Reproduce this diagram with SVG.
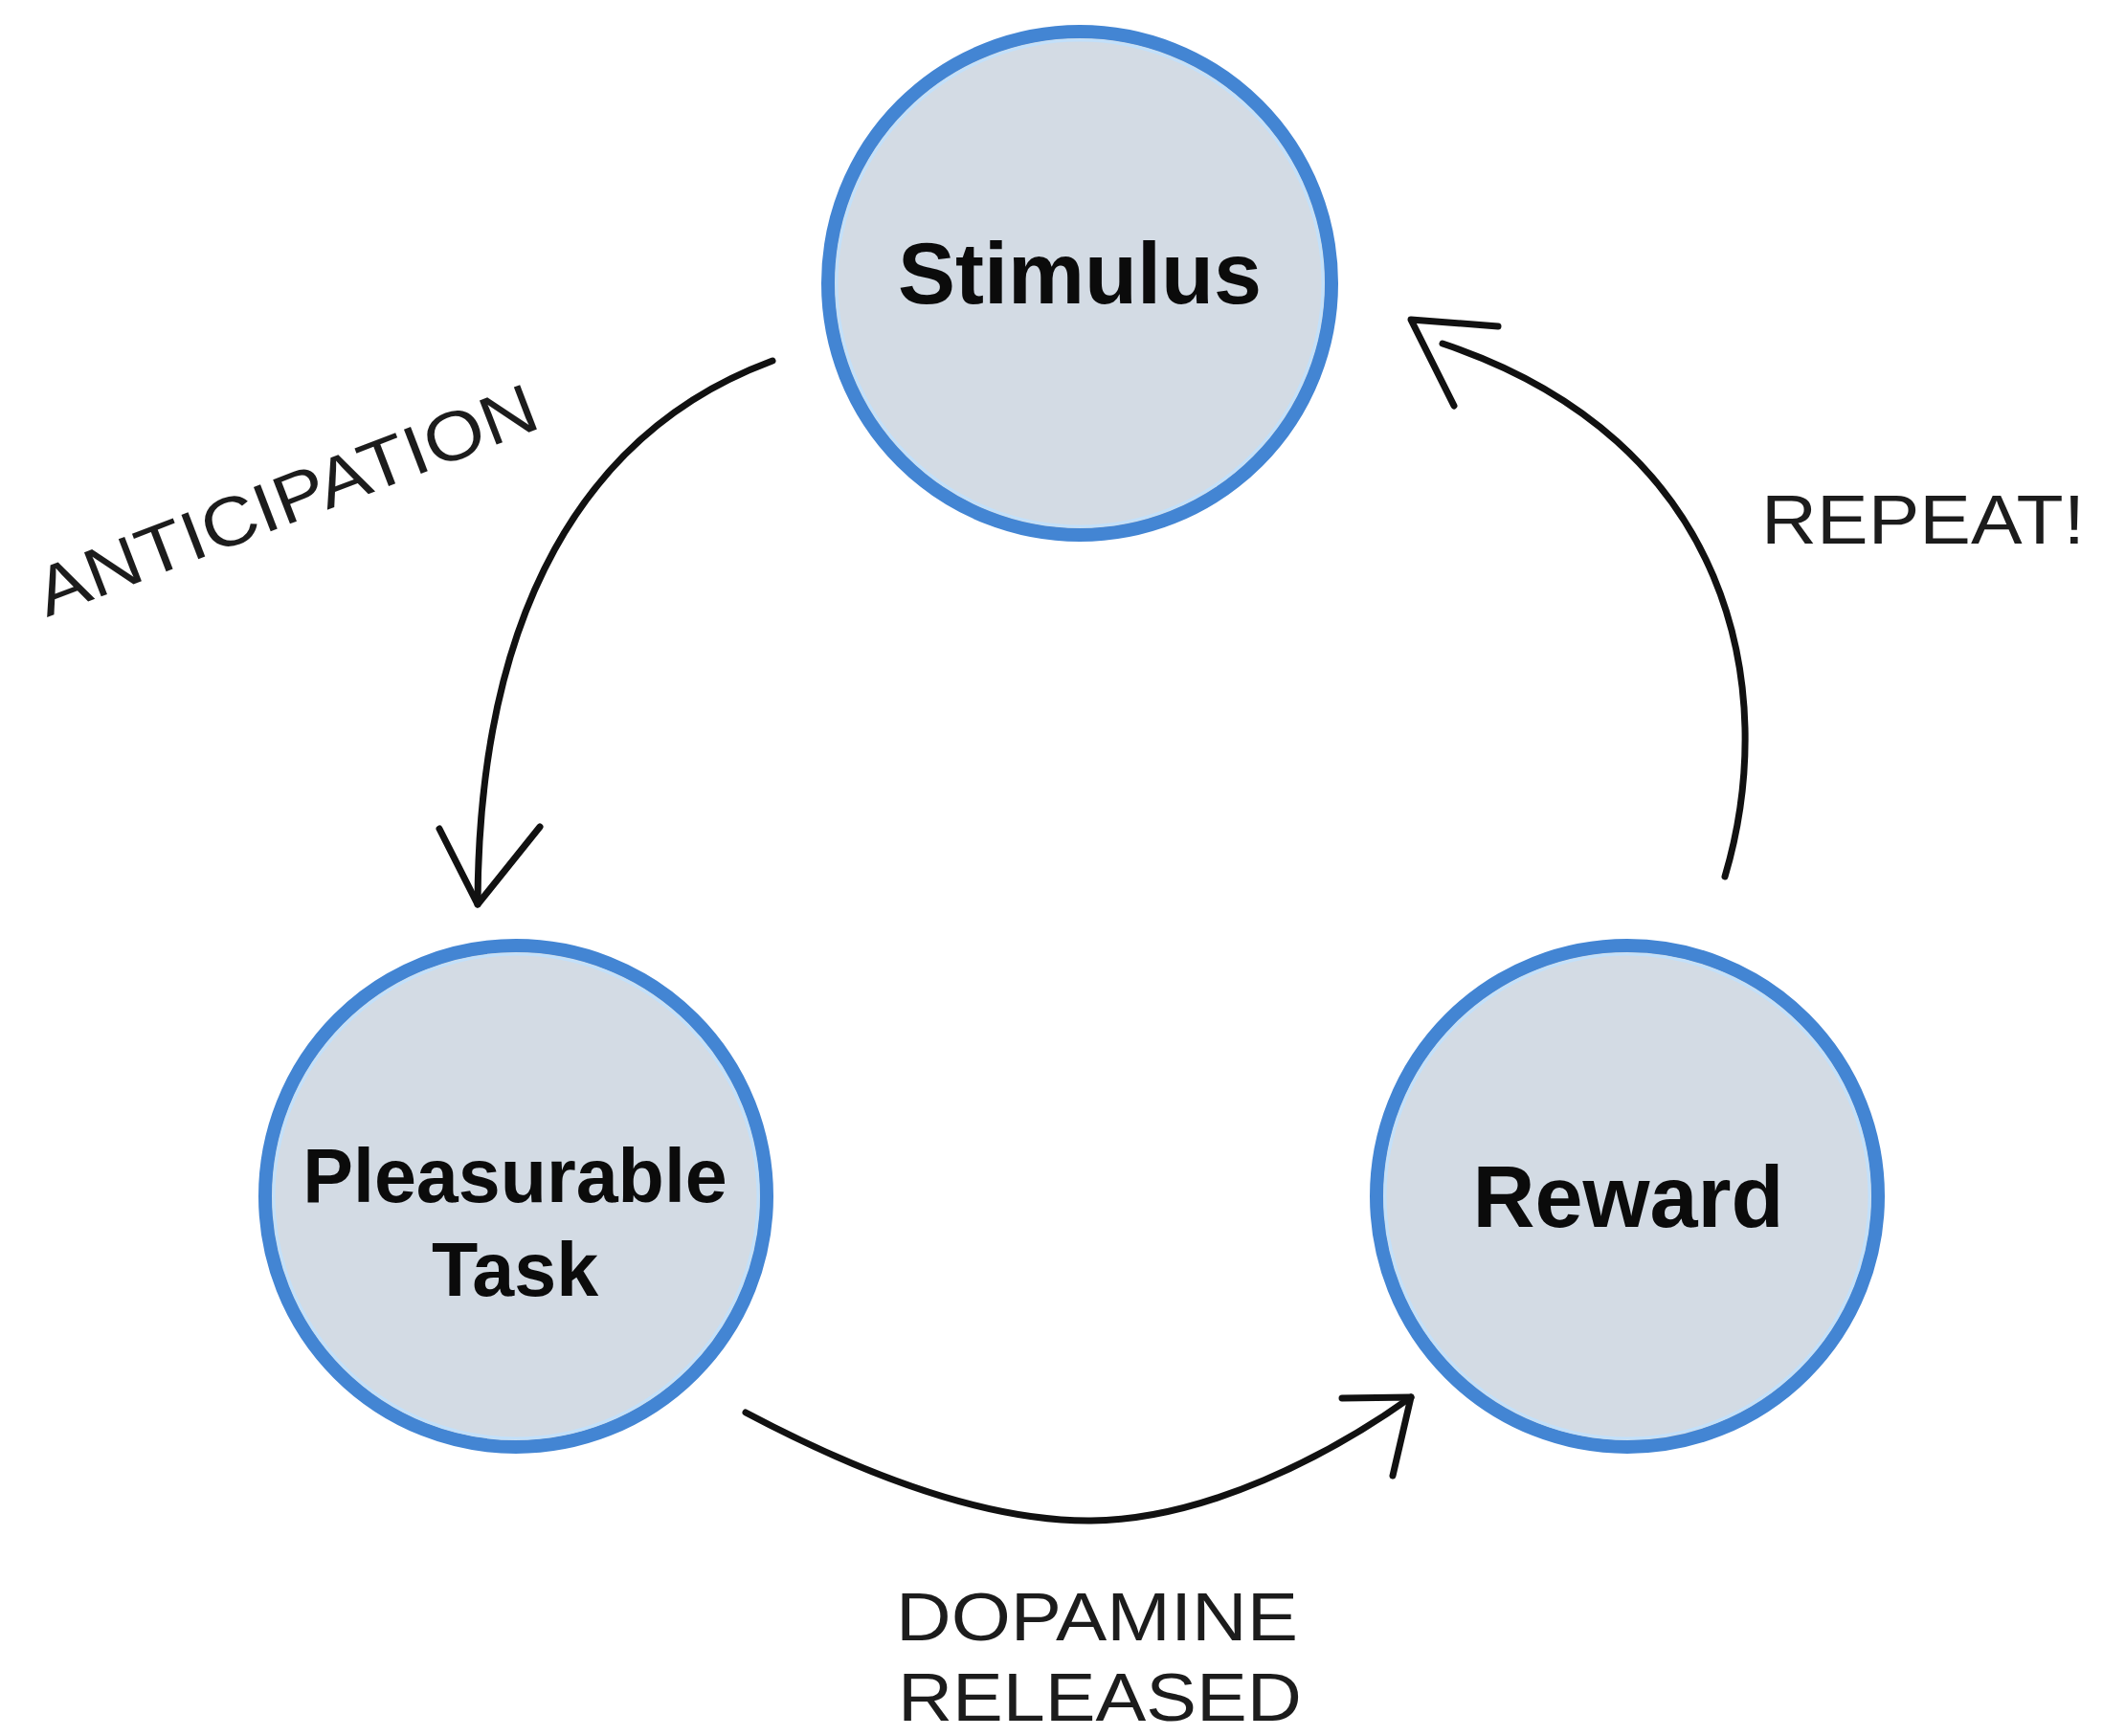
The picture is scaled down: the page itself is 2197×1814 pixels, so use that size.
<svg xmlns="http://www.w3.org/2000/svg" width="2197" height="1814" viewBox="0 0 2197 1814">
  <style>
    .ring { fill: #d3dbe4; stroke: #4385d3; stroke-width: 14; }
    .halo { fill: none; stroke: #c2e0fa; stroke-width: 3; }
    .label { font-family: "Liberation Sans", Arial, sans-serif; font-weight: bold; fill: #0b0b0b; text-anchor: middle; }
    .hand { font-family: "Liberation Sans", Arial, sans-serif; font-weight: normal; fill: #1c1c1c; }
    .stroke { fill: none; stroke: #111111; stroke-width: 7; stroke-linecap: round; stroke-linejoin: round; }
  </style>
  <rect width="2197" height="1814" fill="#ffffff"/>

  <g id="connectors">
    <!-- Stimulus to Pleasurable Task -->
    <g id="edge-anticipation">
      <path class="stroke" d="M807,377 C610,450 500,640 499,945"/>
      <path class="stroke" d="M459,866 L499,945 L564,864"/>
      <text class="hand" x="0" y="0" font-size="72" textLength="555" lengthAdjust="spacingAndGlyphs" transform="translate(49,645) rotate(-21)">ANTICIPATION</text>
    </g>
    <!-- Pleasurable Task to Reward -->
    <g id="edge-dopamine">
      <path class="stroke" d="M779,1476 C900,1540 1030,1590 1140,1589 C1260,1588 1390,1520 1474,1460"/>
      <path class="stroke" d="M1402,1461 L1474,1460 L1455,1542"/>
      <text class="hand" x="936" y="1714" font-size="71" textLength="420" lengthAdjust="spacingAndGlyphs">DOPAMINE</text>
      <text class="hand" x="938" y="1798" font-size="71" textLength="422" lengthAdjust="spacingAndGlyphs">RELEASED</text>
    </g>
    <!-- Reward back to Stimulus -->
    <g id="edge-repeat">
      <path class="stroke" d="M1802,916 C1860,720 1810,460 1507,359"/>
      <path class="stroke" d="M1565,341 L1474,334 L1519,424"/>
      <text class="hand" x="1840" y="568" font-size="72" textLength="338" lengthAdjust="spacingAndGlyphs">REPEAT!</text>
    </g>
  </g>

  <g id="node-stimulus">
    <circle class="ring" cx="1128" cy="296" r="263"/>
    <circle class="halo" cx="1128" cy="296" r="254"/>
    <text class="label" x="1128" y="317" font-size="90">Stimulus</text>
  </g>

  <g id="node-pleasurable-task">
    <circle class="ring" cx="539" cy="1250" r="262"/>
    <circle class="halo" cx="539" cy="1250" r="253"/>
    <text class="label" x="538" y="1256" font-size="79">Pleasurable</text>
    <text class="label" x="538" y="1354" font-size="79">Task</text>
  </g>

  <g id="node-reward">
    <circle class="ring" cx="1700" cy="1250" r="262"/>
    <circle class="halo" cx="1700" cy="1250" r="253"/>
    <text class="label" x="1701" y="1282" font-size="90">Reward</text>
  </g>
</svg>
